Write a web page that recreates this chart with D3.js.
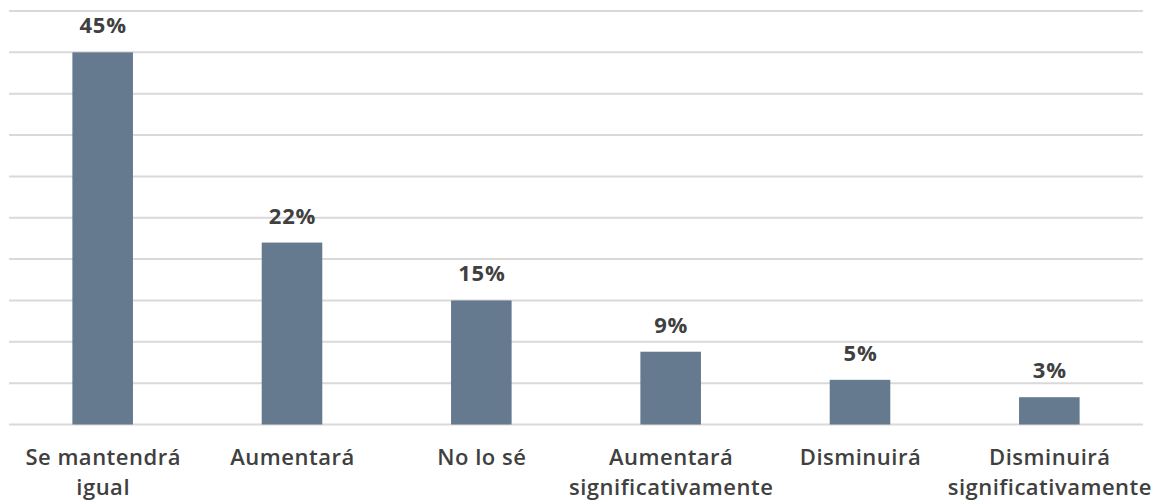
<!DOCTYPE html>
<html><head><meta charset="utf-8">
<script src="https://cdn.jsdelivr.net/npm/d3@7"></script>
<style>html,body{margin:0;padding:0;background:#fff;}svg{display:block;}</style>
</head><body>
<svg id="chart" width="1164" height="504"></svg>
<script>
const categories = [["Se mantendrá","igual"],["Aumentará"],["No lo sé"],["Aumentará","significativamente"],["Disminuirá"],["Disminuirá","significativamente"]];
const values = [45, 22, 15, 8.8, 5.4, 3.3];
const yTicks = [0,5,10,15,20,25,30,35,40,45,50];

const svg = d3.select("#chart");
const x = d3.scaleBand().domain(d3.range(categories.length)).range([8, 1144]).paddingInner(0.68).paddingOuter(0.34);
const y = d3.scaleLinear().domain([0, 50]).range([424.5, 11]);

svg.append("g").selectAll("line").data(yTicks).join("line")
  .attr("x1", 9).attr("x2", 1143)
  .attr("y1", d => y(d)).attr("y2", d => y(d))
  .attr("stroke", "#d9d9d9").attr("stroke-width", 2);

svg.append("g").selectAll("rect").data(values).join("rect")
  .attr("x", (d,i) => x(i)).attr("width", x.bandwidth())
  .attr("y", d => y(d)).attr("height", d => y(0) - y(d))
  .attr("fill", "#657a8f");

const fmt = d3.format(".0f");
svg.append("g").selectAll("text").data(values).join("text")
  .attr("x", (d,i) => x(i) + x.bandwidth()/2 + 0.5)
  .attr("y", d => y(d) - 19)
  .attr("text-anchor", "middle")
  .attr("font-family", "'Open Sans', sans-serif").attr("font-weight", 700)
  .attr("font-size", 22).attr("letter-spacing", 0.8).attr("fill", "#404040")
  .text(d => fmt(d) + "%");

const lab = svg.append("g").selectAll("text").data(categories).join("text")
  .attr("x", (d,i) => x(i) + x.bandwidth()/2 + 0.5)
  .attr("y", 465)
  .attr("text-anchor", "middle")
  .attr("font-family", "'Open Sans', sans-serif").attr("font-weight", 600)
  .attr("font-size", 22).attr("letter-spacing", 0.5).attr("fill", "#404040");
lab.selectAll("tspan").data(d => d).join("tspan")
  .attr("x", function(){ return this.parentNode.getAttribute("x"); })
  .attr("dy", (d,j) => j === 0 ? 0 : 30)
  .text(d => d);
</script>
</body></html>
